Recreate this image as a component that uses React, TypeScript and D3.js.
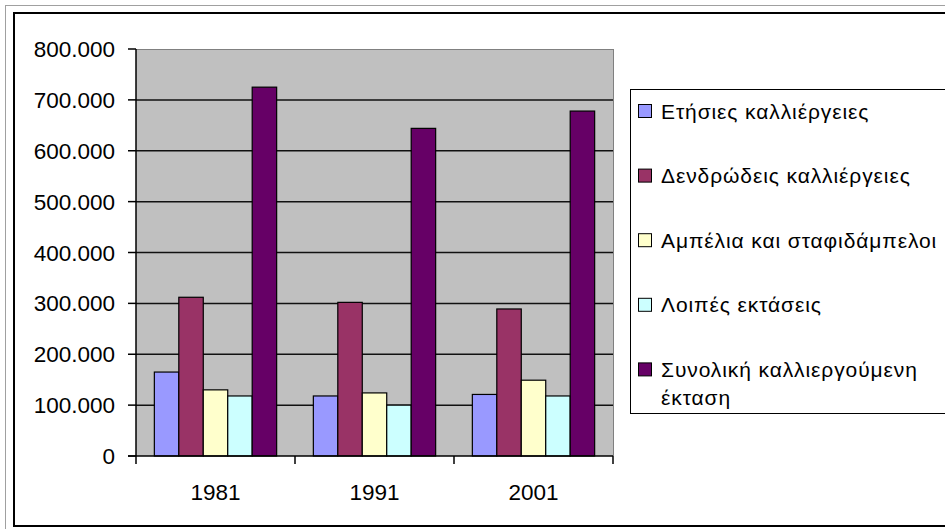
import React from "react";
import * as d3 from "d3";

const categories = ["1981", "1991", "2001"];
const seriesNames = [
  "Ετήσιες καλλιέργειες",
  "Δενδρώδεις καλλιέργειες",
  "Αμπέλια και σταφιδάμπελοι",
  "Λοιπές εκτάσεις",
  "Συνολική καλλιεργούμενη έκταση",
];
const seriesColors = ["#9999FF", "#993366", "#FFFFCC", "#CCFFFF", "#660066"];
const etisies = [165000, 118000, 121000];
const dendrodeis = [312000, 302000, 289000];
const ampelia = [130000, 124000, 149000];
const loipes = [118000, 100000, 118000];
const synoliki = [725000, 644000, 678000];
const seriesValues = [etisies, dendrodeis, ampelia, loipes, synoliki];
const yTicks = [0, 100000, 200000, 300000, 400000, 500000, 600000, 700000, 800000];

const fmt = (v: number) => (v === 0 ? "0" : d3.format(",")(v).replace(/,/g, "."));

export default function App() {
  const W = 945, H = 529;
  const left = 136, right = 613, top = 49, bottom = 456;
  const x0 = d3.scaleBand().domain(categories).range([left, right]).padding(0);
  const bw = x0.bandwidth() / (seriesNames.length + 1.5);
  const y = d3.scaleLinear().domain([0, 800000]).range([bottom, top]);
  const font = "Arial, 'Liberation Sans', sans-serif";

  const legendLines: string[][] = [
    ["Ετήσιες καλλιέργειες"],
    ["Δενδρώδεις καλλιέργειες"],
    ["Αμπέλια και σταφιδάμπελοι"],
    ["Λοιπές εκτάσεις"],
    ["Συνολική καλλιεργούμενη", "έκταση"],
  ];

  return (
    <svg width={W} height={H} style={{ position: "absolute", left: 0, top: 0 }} fontFamily={font}>
      <rect x={0} y={0} width={W} height={H} fill="#fff" />
      <rect x={5.5} y={5.5} width={W + 10} height={H + 10} fill="none" stroke="#a0a0a0" strokeWidth={1} />
      <rect x={14} y={13} width={W + 10} height={513} fill="none" stroke="#000" strokeWidth={2} />
      {/* plot area */}
      <rect x={left} y={top} width={right - left} height={bottom - top} fill="#C0C0C0" />
      <line x1={left} x2={right} y1={top + 0.5} y2={top + 0.5} stroke="#808080" strokeWidth={1} />
      <line x1={right + 0.5} x2={right + 0.5} y1={top} y2={bottom} stroke="#808080" strokeWidth={1} />
      {yTicks.filter((t) => t > 0 && t < 800000).map((t) => (
        <line key={t} x1={left} x2={right} y1={y(t)} y2={y(t)} stroke="#111" strokeWidth={1.5} />
      ))}
      {/* bars */}
      {categories.map((c, ci) =>
        seriesValues.map((vals, si) => {
          const bx = (x0(c) as number) + bw * 0.75 + si * bw;
          return (
            <rect key={c + si} x={bx} y={y(vals[ci])} width={bw} height={bottom - y(vals[ci])}
              fill={seriesColors[si]} stroke="#000" strokeWidth={1.2} />
          );
        })
      )}
      {/* axes */}
      <line x1={left} x2={left} y1={top} y2={bottom + 8} stroke="#000" strokeWidth={1.5} />
      <line x1={left - 8} x2={right} y1={bottom} y2={bottom} stroke="#000" strokeWidth={1.5} />
      {yTicks.map((t) => (
        <g key={t}>
          <line x1={left - 8} x2={left} y1={y(t)} y2={y(t)} stroke="#000" strokeWidth={1.5} />
          <text x={115} y={y(t) + 8} textAnchor="end" fontSize={22.5} fill="#000">{fmt(t)}</text>
        </g>
      ))}
      {categories.map((c, ci) => (
        <g key={c}>
          <line x1={(x0(c) as number) + x0.bandwidth()} x2={(x0(c) as number) + x0.bandwidth()}
            y1={bottom} y2={bottom + 8} stroke="#000" strokeWidth={1.5} />
          <text x={(x0(c) as number) + x0.bandwidth() / 2} y={500} textAnchor="middle" fontSize={22.5} fill="#000">{c}</text>
        </g>
      ))}
      {/* legend */}
      <rect x={630.5} y={89.5} width={320} height={324} fill="#fff" stroke="#000" strokeWidth={1} />
      {legendLines.map((lines, i) => (
        <g key={i}>
          <rect x={638.5} y={104.5 + i * 64.6} width={13} height={13} fill={seriesColors[i]} stroke="#000" strokeWidth={1} />
          {lines.map((l, j) => (
            <text key={j} x={661} y={118.5 + i * 64.6 + j * 28.5} fontSize={21} letterSpacing={0.9} fill="#000">{l}</text>
          ))}
        </g>
      ))}
    </svg>
  );
}
